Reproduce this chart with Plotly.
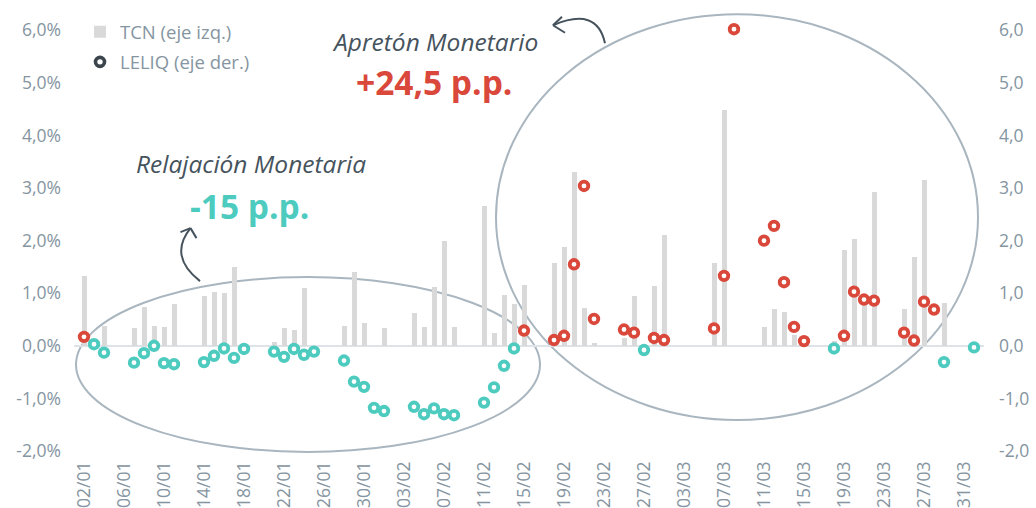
import plotly.graph_objects as go

# Business days (2019) with observations
fechas = [
    "2019-01-02", "2019-01-03", "2019-01-04", "2019-01-07", "2019-01-08", "2019-01-09",
    "2019-01-10", "2019-01-11", "2019-01-14", "2019-01-15", "2019-01-16", "2019-01-17",
    "2019-01-18", "2019-01-21", "2019-01-22", "2019-01-23", "2019-01-24", "2019-01-25",
    "2019-01-28", "2019-01-29", "2019-01-30", "2019-01-31", "2019-02-01", "2019-02-04",
    "2019-02-05", "2019-02-06", "2019-02-07", "2019-02-08", "2019-02-11", "2019-02-12",
    "2019-02-13", "2019-02-14", "2019-02-15", "2019-02-18", "2019-02-19", "2019-02-20",
    "2019-02-21", "2019-02-22", "2019-02-25", "2019-02-26", "2019-02-27", "2019-02-28",
    "2019-03-01", "2019-03-06", "2019-03-07", "2019-03-08", "2019-03-11", "2019-03-12",
    "2019-03-13", "2019-03-14", "2019-03-15", "2019-03-18", "2019-03-19", "2019-03-20",
    "2019-03-21", "2019-03-22", "2019-03-25", "2019-03-26", "2019-03-27", "2019-03-28",
    "2019-03-29", "2019-04-01",
]

# Daily change of the nominal exchange rate, % (left axis)
tcn = [
    1.33, 0.00, 0.38, 0.33, 0.74, 0.38,
    0.35, 0.79, 0.95, 1.02, 1.00, 1.49,
    0.00, 0.08, 0.33, 0.30, 1.10, 0.00,
    0.38, 1.40, 0.44, 0.00, 0.33, 0.62,
    0.35, 1.12, 1.99, 0.35, 2.66, 0.24,
    0.97, 0.79, 1.15, 1.57, 1.88, 3.30,
    0.71, 0.05, 0.15, 0.95, 0.00, 1.14,
    2.11, 1.57, 4.48, 0.00, 0.35, 0.70,
    0.64, 0.20, 0.00, 0.10, 1.82, 2.04,
    0.85, 2.93, 0.70, 1.68, 3.15, 0.00,
    0.81, 0.00,
]

# Daily change of the LELIQ rate, p.p. (right axis)
leliq = [
    0.17, 0.03, -0.13, -0.32, -0.14, 0.00,
    -0.33, -0.35, -0.31, -0.19, -0.05, -0.23,
    -0.06, -0.11, -0.21, -0.06, -0.17, -0.11,
    -0.28, -0.68, -0.78, -1.18, -1.24, -1.16,
    -1.30, -1.19, -1.30, -1.32, -1.08, -0.79,
    -0.38, -0.05, 0.29, 0.11, 0.19, 1.55,
    3.04, 0.51, 0.31, 0.25, -0.08, 0.15,
    0.11, 0.33, 1.33, 6.02, 2.00, 2.28,
    1.21, 0.36, 0.09, -0.05, 0.19, 1.03,
    0.88, 0.86, 0.25, 0.10, 0.84, 0.69,
    -0.31, -0.03,
]

ticks_x = ["2019-01-%02d" % d for d in (2, 6, 10, 14, 18, 22, 26, 30)] + \
          ["2019-02-%02d" % d for d in (3, 7, 11, 15, 19, 23, 27)] + \
          ["2019-03-%02d" % d for d in (3, 7, 11, 15, 19, 23, 27, 31)]

ticks_y = [-2, -1, 0, 1, 2, 3, 4, 5, 6]
ticks_izq = ["-2,0%", "-1,0%", "0,0%", "1,0%", "2,0%", "3,0%", "4,0%", "5,0%", "6,0%"]
ticks_der = ["-2,0", "-1,0", "0,0", "1,0", "2,0", "3,0", "4,0", "5,0", "6,0"]

ROJO = "#d9483a"
TURQUESA = "#4ecbbf"
GRIS_BARRA = "#d9d9d9"
GRIS_TEXTO = "#8595a1"
PIZARRA = "#46535d"
ELIPSE = "#a9b6bf"
FONT = "Open Sans"

Y_MIN, Y_MAX = -2, 6.1
W, H = 1036, 508
L, R = 74, 984
B = 451                                   # pixel row of y = -2
T = B - (B - 30) / 8 * (Y_MAX - Y_MIN)    # keeps y = 6 at pixel row 30


def px(x):
    return (x - L) / (R - L)


def py(y):
    return (B - y) / (B - T)


colores = [ROJO if v > 0.05 else TURQUESA for v in leliq]

fig = go.Figure()

fig.add_trace(go.Bar(
    x=fechas, y=tcn, name="TCN (eje izq.)",
    marker=dict(color=GRIS_BARRA, line=dict(width=0)),
    width=0.5 * 86400000, legendgroup="a",
))

fig.add_trace(go.Scatter(
    x=fechas, y=leliq, yaxis="y2", mode="markers", showlegend=False,
    marker=dict(symbol="circle", size=8.6, color="white",
                line=dict(color=colores, width=3.8)),
    cliponaxis=False,
))

# legend entry for the LELIQ series
fig.add_trace(go.Scatter(
    x=[None], y=[None], yaxis="y2", mode="markers", name="LELIQ (eje der.)",
    marker=dict(symbol="circle", size=9, color="white",
                line=dict(color="#3a454e", width=3.6)),
    legendgroup="b",
))

shapes = [
    # Relajación monetaria
    dict(type="circle", xref="paper", yref="paper",
         x0=px(76), x1=px(540), y0=py(452), y1=py(277),
         line=dict(color=ELIPSE, width=2), layer="between"),
    # Apretón monetario
    dict(type="circle", xref="paper", yref="paper",
         x0=px(496), x1=px(978), y0=py(420), y1=py(14),
         line=dict(color=ELIPSE, width=2), layer="between"),
]


def curva(p0, c, p1):
    return "M %f %f Q %f %f %f %f" % (px(p0[0]), py(p0[1]), px(c[0]), py(c[1]),
                                       px(p1[0]), py(p1[1]))


def linea(p0, p1):
    return "M %f %f L %f %f" % (px(p0[0]), py(p0[1]), px(p1[0]), py(p1[1]))


flechas = [
    curva((200, 281), (168, 256), (190.5, 228)),
    linea((190.5, 228), (180.5, 232)),
    linea((190.5, 228), (196.5, 238)),
    curva((605, 43), (597, 6), (553, 25)),
    linea((553, 25), (562, 16.5)),
    linea((553, 25), (565, 32.5)),
]
for p in flechas:
    shapes.append(dict(type="path", path=p, xref="paper", yref="paper",
                       line=dict(color=PIZARRA, width=2)))

annotations = [
    dict(text="<i>Relajación Monetaria</i>", x=px(251), y=py(163),
         font=dict(size=24.5, color=PIZARRA, family=FONT)),
    dict(text="<b>-15 p.p.</b>", x=px(249), y=py(206),
         font=dict(size=33.5, color=TURQUESA, family=FONT)),
    dict(text="<i>Apretón Monetario</i>", x=px(435), y=py(41),
         font=dict(size=24.5, color=PIZARRA, family=FONT)),
    dict(text="<b>+24,5 p.p.</b>", x=px(434), y=py(82),
         font=dict(size=33.5, color=ROJO, family=FONT)),
]
for a in annotations:
    a.update(xref="paper", yref="paper", showarrow=False,
             xanchor="center", yanchor="middle")

fig.update_layout(
    width=W, height=H,
    margin=dict(l=L, r=W - R, t=T, b=H - B, pad=0),
    paper_bgcolor="white", plot_bgcolor="rgba(0,0,0,0)",
    separators=",.",
    font=dict(family=FONT, color=GRIS_TEXTO, size=18),
    bargap=0,
    showlegend=True,
    legend=dict(x=px(80), y=py(13), xanchor="left", yanchor="top",
                bgcolor="rgba(0,0,0,0)", tracegroupgap=3,
                font=dict(size=18.5, color=GRIS_TEXTO, family=FONT),
                itemwidth=30),
    xaxis=dict(type="date", range=["2019-01-01", "2019-04-02"],
               tickmode="array", tickvals=ticks_x, tickformat="%d/%m",
               tickangle=-90, showgrid=False, showline=False, ticks="",
               zeroline=False, automargin=False, ticklabelstandoff=6,
               tickfont=dict(size=17.5, color=GRIS_TEXTO)),
    yaxis=dict(range=[Y_MIN, Y_MAX], tickmode="array", tickvals=ticks_y,
               ticktext=ticks_izq,
               showgrid=False, zeroline=True, zerolinecolor="#dde3e8",
               zerolinewidth=2, showline=False, ticks="", automargin=False,
               ticklabelstandoff=12, tickfont=dict(size=17.5, color=GRIS_TEXTO)),
    yaxis2=dict(range=[Y_MIN, Y_MAX], tickmode="array", tickvals=ticks_y,
                ticktext=ticks_der, overlaying="y",
                side="right", showgrid=False, zeroline=False, showline=False,
                ticks="", automargin=False, ticklabelstandoff=14,
                tickfont=dict(size=17.5, color=GRIS_TEXTO)),
    shapes=shapes,
    annotations=annotations,
)

fig.write_html("out.html")
